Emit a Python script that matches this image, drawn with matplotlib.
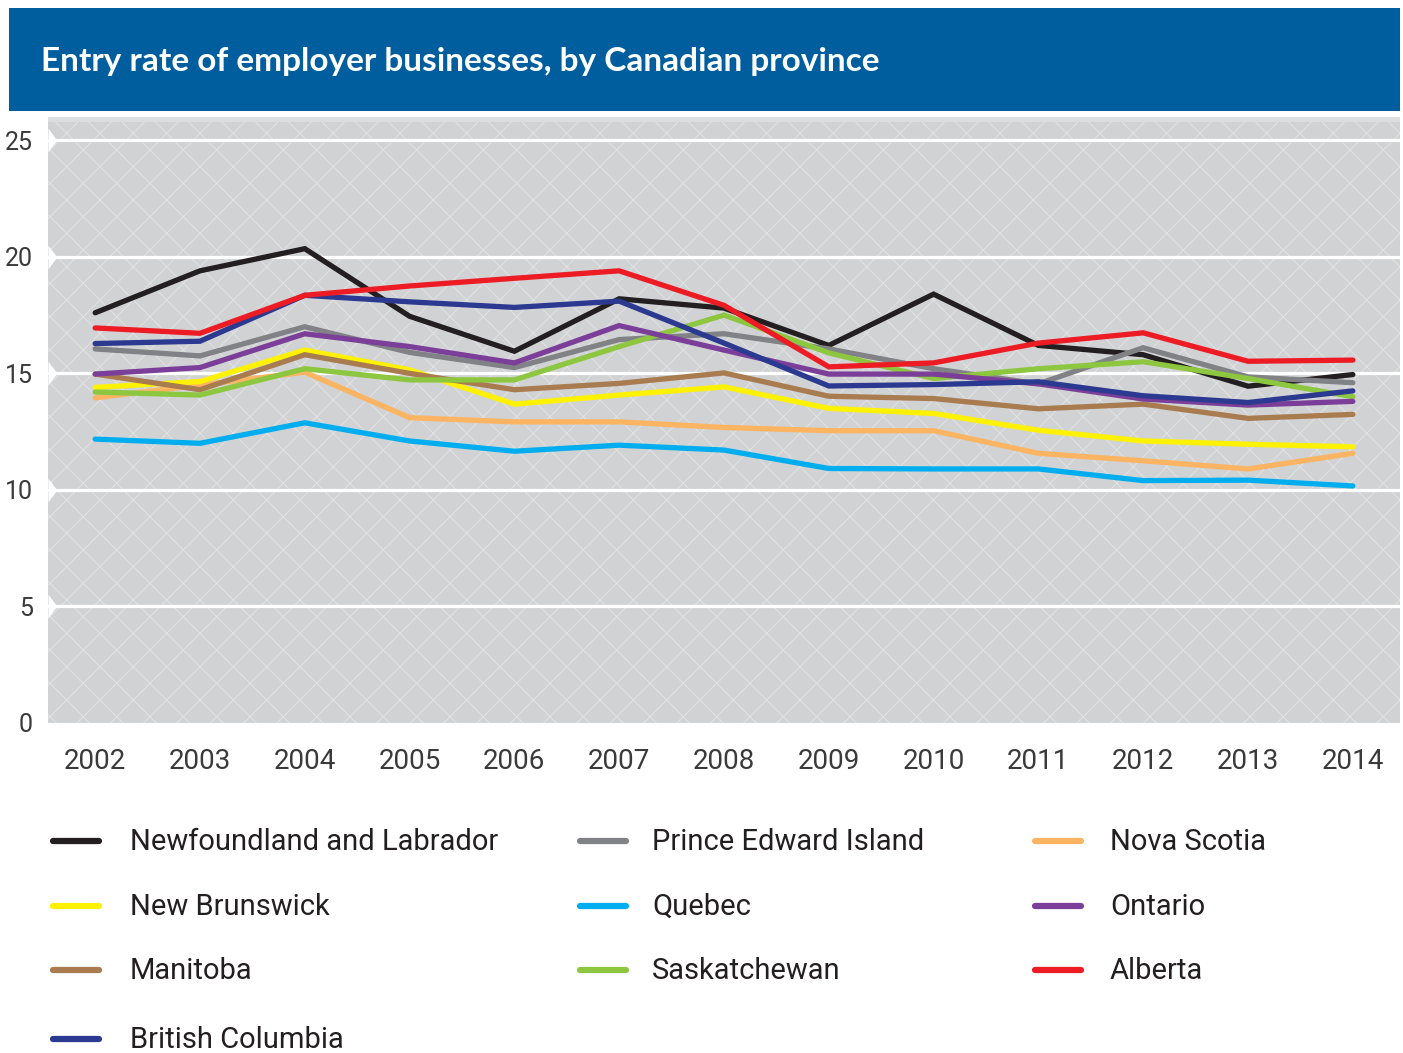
import matplotlib
matplotlib.use("Agg")
import matplotlib.pyplot as plt
from matplotlib.patches import Rectangle
from matplotlib.lines import Line2D

years = [2002, 2003, 2004, 2005, 2006, 2007, 2008, 2009, 2010, 2011, 2012, 2013, 2014]

newfoundland = [17.6, 19.4, 20.35, 17.45, 15.95, 18.2, 17.8, 16.2, 18.4, 16.2, 15.8, 14.45, 14.95]
pei = [16.05, 15.75, 17.0, 15.9, 15.25, 16.45, 16.7, 16.05, 15.2, 14.55, 16.1, 14.85, 14.6]
nova_scotia = [13.95, 14.5, 15.05, 13.1, 12.92, 12.92, 12.68, 12.54, 12.54, 11.57, 11.25, 10.9, 11.57]
new_brunswick = [14.4, 14.65, 16.0, 15.15, 13.68, 14.07, 14.42, 13.5, 13.28, 12.56, 12.1, 11.96, 11.85]
quebec = [12.18, 12.0, 12.88, 12.1, 11.66, 11.92, 11.71, 10.92, 10.9, 10.9, 10.4, 10.42, 10.17]
ontario = [14.97, 15.25, 16.7, 16.15, 15.45, 17.05, 16.0, 14.97, 14.97, 14.55, 13.9, 13.64, 13.8]
manitoba = [14.97, 14.3, 15.8, 15.0, 14.3, 14.57, 15.02, 14.02, 13.92, 13.48, 13.68, 13.07, 13.24]
saskatchewan = [14.2, 14.07, 15.2, 14.72, 14.72, 16.15, 17.5, 15.88, 14.78, 15.2, 15.5, 14.78, 14.0]
alberta = [16.95, 16.72, 18.35, 18.75, 19.08, 19.4, 17.92, 15.28, 15.45, 16.3, 16.74, 15.52, 15.57]
british_columbia = [16.28, 16.38, 18.35, 18.07, 17.83, 18.1, 16.3, 14.46, 14.52, 14.64, 14.04, 13.75, 14.25]

names = ["Newfoundland and Labrador", "Prince Edward Island", "Nova Scotia",
         "New Brunswick", "Quebec", "Ontario",
         "Manitoba", "Saskatchewan", "Alberta",
         "British Columbia"]
series = [newfoundland, pei, nova_scotia, new_brunswick, quebec, ontario,
          manitoba, saskatchewan, alberta, british_columbia]
colors = ["#231f20", "#808285", "#fbb461", "#fff200", "#00aeef", "#7b3f99",
          "#a97c50", "#8dc63f", "#ed1c24", "#2b3990"]

y_ticks = [0, 5, 10, 15, 20, 25]
title = "Entry rate of employer businesses, by Canadian province"

W, H = 1403, 1053
fig = plt.figure(figsize=(W / 100, H / 100), dpi=100)
fig.patch.set_facecolor("white")

# title banner
fig.add_artist(Rectangle((9 / W, 1 - 111 / H), 1391 / W, 103 / H,
                         transform=fig.transFigure, facecolor="#005e9e",
                         edgecolor="none", zorder=0))
fig.text(41 / W, 1 - 61 / H, title, color="white", fontsize=24,
         fontfamily="Lato", fontweight="bold", va="center", ha="left")

ax = fig.add_axes([48 / W, 1 - 723 / H, (1400 - 48) / W, (723 - 117) / H])
plt.rcParams["hatch.linewidth"] = 0.8
xmin, xmax = 2001.55, 2014.45
ax.set_xlim(xmin, xmax)
ax.set_ylim(0, 26)
ax.set_facecolor("#d1d2d4")
ax.add_patch(Rectangle((0, 0), 1, 1, transform=ax.transAxes, facecolor="#d1d2d4",
                       edgecolor="#e0e1e3", hatch="x", linewidth=0, zorder=0))
ax.axhspan(25.8, 26, color="#dcdddf", zorder=0.5, lw=0)
for s in ax.spines.values():
    s.set_visible(False)

for yv in y_ticks[1:]:
    ax.axhline(yv, color="white", lw=2.3, zorder=1)
ax.plot([xmin] * (len(y_ticks) - 1), y_ticks[1:], ls="none",
        marker=[(0, -1), (0.75, 0), (0, 1)], ms=17, color="white",
        mec="none", clip_on=False, zorder=1.5)

draw_order = [0, 1, 2, 3, 4, 6, 7, 5, 9, 8]
for i in draw_order:
    ax.plot(years, series[i], color=colors[i], lw=3.8, solid_joinstyle="miter",
            solid_capstyle="round", zorder=3)

ax.set_xticks(years)
ax.set_xticklabels([str(y) for y in years])
ax.set_yticks(y_ticks)
ax.tick_params(axis="x", length=0, pad=18, labelsize=20, labelcolor="#3a3a3a")
ax.tick_params(axis="y", length=0, pad=11, labelsize=18, labelcolor="#3a3a3a")
for lab in ax.get_xticklabels() + ax.get_yticklabels():
    lab.set_fontfamily("Roboto")

# legend (manual, row-major, 3 columns)
col_x = [50, 577, 1032]
text_off = [80, 75, 78]
row_y = [841, 906, 970, 1039]
for k, (name, c) in enumerate(zip(names, colors)):
    r, cc = divmod(k, 3)
    x0 = col_x[cc]
    y0 = row_y[r]
    fig.add_artist(Line2D([(x0 + 3) / W, (x0 + 49) / W], [1 - y0 / H, 1 - y0 / H],
                          transform=fig.transFigure, color=c, lw=4.5,
                          solid_capstyle="round"))
    fig.text((x0 + text_off[cc]) / W, 1 - (y0 + 1) / H, name, fontsize=21,
             fontfamily="Roboto", color="#231f20", va="center", ha="left")

fig.savefig("out.png", dpi=100, facecolor="white")
